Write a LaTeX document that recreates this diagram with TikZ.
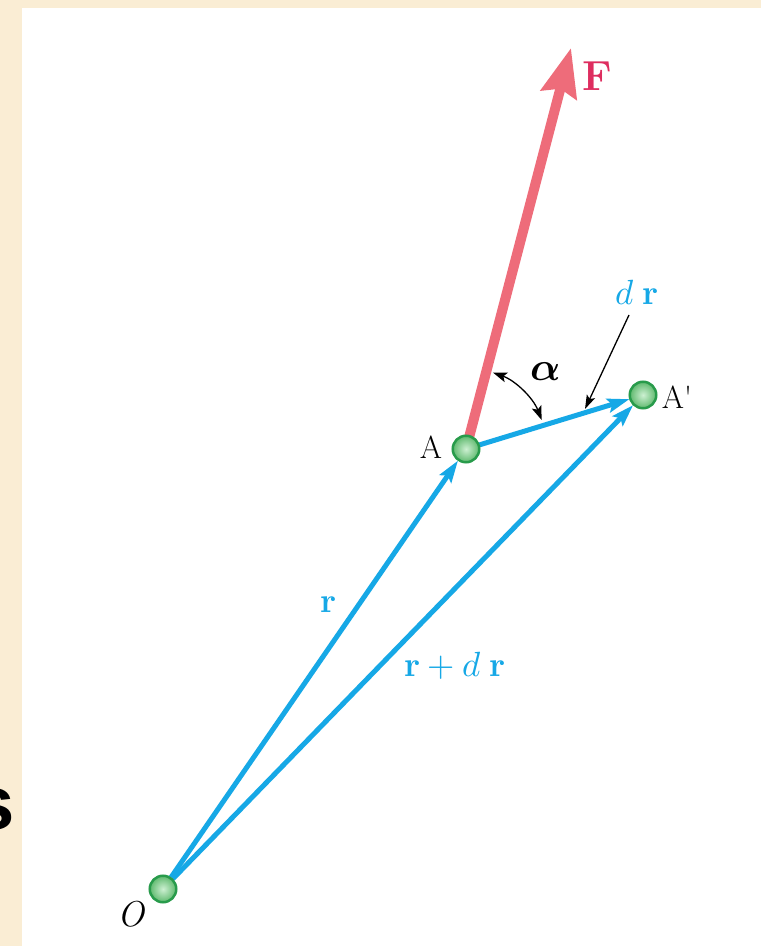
\documentclass[tikz,border=0pt]{standalone}
\usepackage{fontspec}
\usepackage{unicode-math}
\setmathfont{Latin Modern Math}
\usetikzlibrary{arrows.meta}
\newfontfamily\sansfam{Liberation Sans}
\definecolor{parch}{RGB}{250,237,212}
\definecolor{vblue}{RGB}{22,168,230}
\definecolor{fpink}{RGB}{238,108,122}
\definecolor{flabel}{RGB}{222,45,95}
\definecolor{ballout}{RGB}{40,155,75}
\definecolor{ballin}{RGB}{205,240,210}
\definecolor{ballmid}{RGB}{95,185,110}
\begin{document}
\begin{tikzpicture}[x=1pt,y=1pt,
  anchorpt/.style={circle, minimum size=28pt, inner sep=0pt},
  ballpt/.style={circle, minimum size=26.5pt, inner sep=0pt, draw=ballout, line width=2.5pt, shading=radial, inner color=ballin, outer color=ballmid},
  vec/.style={draw=vblue, line width=5pt, -{Stealth[length=22pt,width=14pt,inset=4pt]}},
  force/.style={draw=fpink, line width=10pt, -{Stealth[length=48pt,width=36pt,inset=6pt]}},
  thin/.style={draw=black, line width=1.3pt},
  lbl/.style={inner sep=0pt, font=\fontsize{32}{32}\selectfont},
  vlbl/.style={inner sep=0pt, text=vblue, font=\fontsize{35}{35}\selectfont}]
\useasboundingbox (0,0) rectangle (761,946);
\fill[parch] (0,0) rectangle (761,946);
\fill[white] (22,0) rectangle (761,938);
\begin{scope}
\clip (0,0) rectangle (22,946);
\node[inner sep=0pt, anchor=base east, font=\sansfam\bfseries\fontsize{76}{76}\selectfont] (s) at (15,116) {s};
\end{scope}
% points
\node[anchorpt] (O) at (163,57) {};
\node[anchorpt] (A) at (466,497) {};
\node[anchorpt] (Ap) at (643,551) {};
\coordinate (Ftip) at (571,898);
% force
\draw[force] (A.center) -- (Ftip);
% vectors
\draw[vec] (O) -- (A);
\draw[vec] (O) -- (Ap);
\draw[vec] (A) -- (Ap);
% balls
\node[ballpt] at (O) {};
\node[ballpt] at (A) {};
\node[ballpt] at (Ap) {};
% angle
\draw[thin, {Stealth[length=14pt,width=10pt,inset=3pt]}-{Stealth[length=14pt,width=10pt,inset=3pt]}]
  ([shift={(70.5:81)}]A.center) arc[start angle=70.5, end angle=21, radius=81];
% leader
\coordinate (L1) at (629,631);
\coordinate (L2) at (585,537);
\draw[thin, -{Stealth[length=14pt,width=9pt,inset=3pt]}] (L1) -- (L2);
% labels
\node[inner sep=0pt, text=flabel, font=\bfseries\fontsize{42}{42}\selectfont] (Fl) at (597,870) {F};
\node[lbl] (Al) at (431,499) {A};
\node[lbl] (Apl) at (677,549) {A\textquotesingle};
\node[lbl, font=\itshape\fontsize{36}{36}\selectfont] (Ol) at (131,32) {O};
\node[vlbl] (rl) at (329,341) {$\mathbf{r}$};
\node[vlbl] (rdrl) at (455,280) {$\mathbf{r}+d\mkern4mu\mathbf{r}$};
\node[vlbl] (drl) at (637,653) {$d\mkern4mu\mathbf{r}$};
\node[inner sep=0pt, font=\fontsize{40}{40}\selectfont] (al) at (546,574) {$\symbfit{\alpha}$};
\end{tikzpicture}
\end{document}
